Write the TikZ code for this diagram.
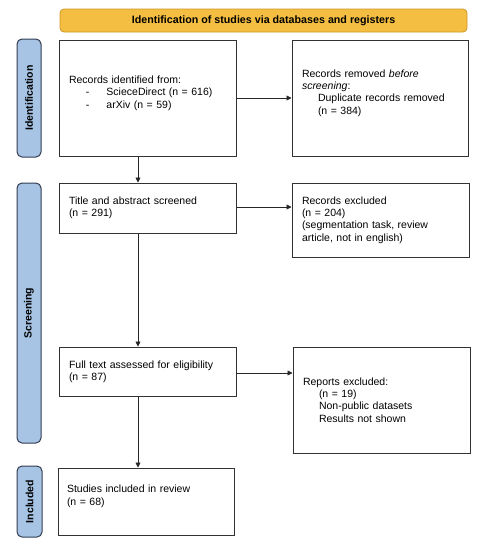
\documentclass[tikz,border=0pt]{standalone}
\usepackage{fontspec}
\setmainfont{Liberation Sans}
\usetikzlibrary{arrows.meta,calc}
\definecolor{titlefill}{RGB}{244,190,66}
\definecolor{titledraw}{RGB}{205,150,40}
\definecolor{sidefill}{RGB}{167,196,229}
\definecolor{sidedraw}{RGB}{50,60,80}
\definecolor{boxdraw}{RGB}{50,50,50}
\begin{document}
\begin{tikzpicture}[x=1pt,y=-1pt,
  txt/.style={font=\fontsize{10.5}{12.4}\selectfont},
  box/.style={draw=boxdraw, line width=1pt, fill=white, rectangle, align=left,
    inner xsep=10pt, inner ysep=0pt, txt},
  side/.style={draw=sidedraw, line width=1pt, fill=sidefill, rounded corners=5pt,
    rotate=90, inner sep=0pt, font=\fontsize{10.5}{12}\selectfont\bfseries},
  arr/.style={draw=black!85, line width=0.7pt, -{Triangle[length=5pt,width=5pt]}}
]
\useasboundingbox (0,0) rectangle (484,550);

% title bar
\node[draw=titledraw, line width=0.8pt, fill=titlefill, rounded corners=4pt,
  minimum width=407pt, minimum height=23pt, inner sep=0pt,
  font=\fontsize{10.7}{12}\selectfont\bfseries] (title) at (263.5,20.5)
  {Identification of studies via databases and registers};

% side labels
\node[side, minimum width=118pt, minimum height=24pt] (sid) at (29,98) {Identification};
\node[side, minimum width=260pt, minimum height=24pt] (sscr) at (29,313) {Screening};
\node[side, minimum width=71pt, minimum height=25pt] (sinc) at (29.5,501.5) {Included};

% boxes
\node[box, text width=157pt, minimum height=116pt] (b1) at (147.5,98)
  {Records identified from:\\
   \hspace*{17pt}-\hspace*{17pt}ScieceDirect (n = 616)\\
   \hspace*{17pt}-\hspace*{17pt}arXiv (n = 59)\\ \mbox{}};
\node[box, text width=156pt, minimum height=116pt] (b2) at (380,98)
  {Records removed \textit{before}\\
   \textit{screening}:\\
   \hspace*{16pt}Duplicate records removed\\
   \hspace*{16pt}(n = 384)\\ \mbox{}};
\node[box, text width=157pt, minimum height=50pt] (b3) at (147.5,208)
  {Title and abstract screened\\ (n = 291)};
\node[box, text width=157pt, minimum height=74pt] (b4) at (380.5,220)
  {Records excluded\\ (n = 204)\\ (segmentation task, review\\ article, not in english)};
\node[box, text width=157pt, minimum height=49pt] (b5) at (147.5,371.5)
  {Full text assessed for eligibility\\ (n = 87)};
\node[box, text width=157pt, minimum height=106pt] (b6) at (381.5,400)
  {Reports excluded:\\
   \hspace*{16pt}(n = 19)\\
   \hspace*{16pt}Non-public datasets\\
   \hspace*{16pt}Results not shown};
\node[box, text width=158pt, minimum height=67pt, inner xsep=9pt] (b7) at (146,501.5)
  {Studies included in review\\ (n = 68)\\ \mbox{}};

% connectors
\coordinate (col) at (138,0);
\draw[arr] (b1.east) -- (b2.west);
\draw[arr] (b3.east |- 0,207) -- (b4.west |- 0,207);
\draw[arr] (b5.east |- 0,373) -- (b6.west |- 0,373);
\draw[arr] (b1.south -| col) -- (b3.north -| col);
\draw[arr] (b3.south -| col) -- (b5.north -| col);
\draw[arr] (b5.south -| col) -- (b7.north -| col);
\end{tikzpicture}
\end{document}
